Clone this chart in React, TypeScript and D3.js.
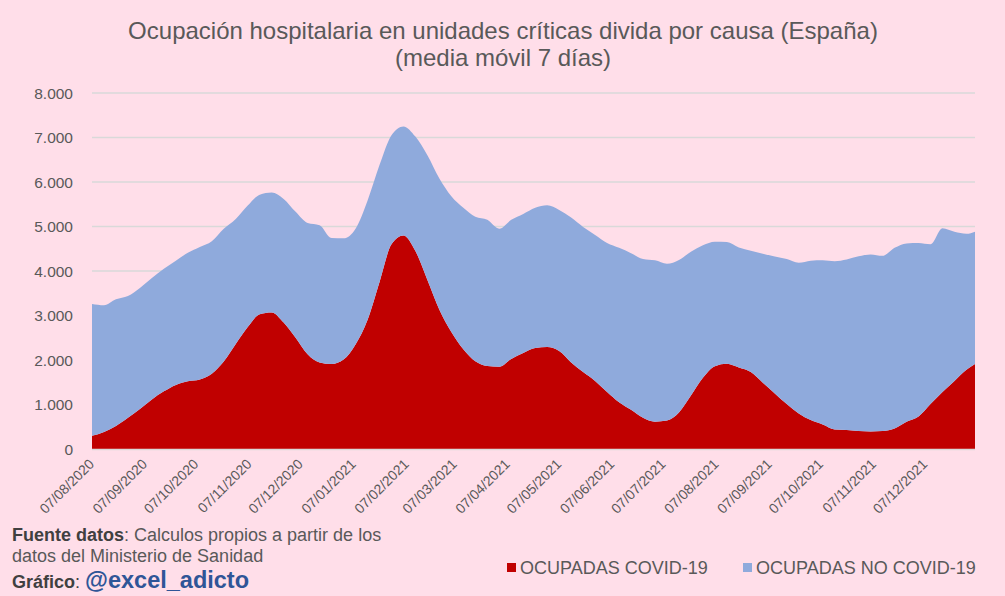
import React from "react";
import * as d3 from "d3";

const dates = [
  "2020-08-07","2020-08-14","2020-08-21","2020-08-28","2020-09-04","2020-09-11","2020-09-18","2020-09-25",
  "2020-10-02","2020-10-09","2020-10-16","2020-10-23","2020-10-30","2020-11-06","2020-11-13","2020-11-20",
  "2020-11-27","2020-12-04","2020-12-11","2020-12-18","2020-12-25","2021-01-01","2021-01-08","2021-01-15",
  "2021-01-22","2021-01-29","2021-02-05","2021-02-12","2021-02-19","2021-02-26","2021-03-05","2021-03-12",
  "2021-03-19","2021-03-26","2021-04-02","2021-04-09","2021-04-16","2021-04-23","2021-04-30","2021-05-07",
  "2021-05-14","2021-05-21","2021-05-28","2021-06-04","2021-06-11","2021-06-18","2021-06-25","2021-07-02",
  "2021-07-09","2021-07-16","2021-07-23","2021-07-30","2021-08-06","2021-08-13","2021-08-20","2021-08-27",
  "2021-09-03","2021-09-10","2021-09-17","2021-09-24","2021-10-01","2021-10-08","2021-10-15","2021-10-22",
  "2021-10-29","2021-11-05","2021-11-12","2021-11-19","2021-11-26","2021-12-03","2021-12-10","2021-12-17",
  "2021-12-24","2021-12-31","2022-01-05",
];

const covid = [
  295,383,515,700,900,1115,1295,1440,
  1520,1560,1690,1965,2360,2740,3030,3070,
  2840,2500,2130,1945,1910,2010,2350,2900,
  3750,4600,4800,4450,3800,3130,2630,2240,
  1970,1865,1850,2025,2160,2270,2290,2200,
  1945,1730,1530,1280,1050,880,700,615,
  640,820,1200,1600,1860,1915,1830,1730,
  1490,1250,1010,800,650,550,440,427,
  405,395,405,460,610,730,1010,1280,
  1530,1780,1910,
];

const noCovid = [
  2963,2847,2849,2740,2720,2725,2755,2790,
  2890,2980,2980,2985,2810,2730,2685,2695,
  2780,2830,2950,3085,2830,2725,2600,2680,
  2630,2450,2450,2570,2800,2950,3050,3180,
  3250,3285,3100,3125,3120,3150,3185,3170,
  3255,3260,3280,3350,3470,3520,3570,3625,
  3525,3430,3230,2980,2800,2735,2700,2725,
  2900,3075,3260,3385,3582,3690,3780,3833,
  3925,3975,3935,4060,4010,3900,3590,3680,
  3350,3055,2974,
];

const xTicks = [
  "2020-08-07","2020-09-07","2020-10-07","2020-11-07","2020-12-07","2021-01-07","2021-02-07","2021-03-07",
  "2021-04-07","2021-05-07","2021-06-07","2021-07-07","2021-08-07","2021-09-07","2021-10-07","2021-11-07","2021-12-07",
];
const yTicks = [0, 1000, 2000, 3000, 4000, 5000, 6000, 7000, 8000];

const seriesNames = ["OCUPADAS COVID-19", "OCUPADAS NO COVID-19"];
const seriesColors = ["#C00000", "#8FAADC"];

const W = 1005, H = 596;
const X0 = 92, X1 = 975, Y0 = 449, Y1 = 93;

export default function App() {
  const parse = d3.timeParse("%Y-%m-%d");
  const fmt = d3.timeFormat("%d/%m/%Y");
  const rows = dates.map((d, i) => ({ date: parse(d) as Date, covid: covid[i], noCovid: noCovid[i] }));
  const x = d3.scaleTime().domain([rows[0].date, rows[rows.length - 1].date]).range([X0, X1]);
  const y = d3.scaleLinear().domain([0, 8000]).range([Y0, Y1]);
  const stack = d3.stack<any>().keys(["covid", "noCovid"]);
  const layers = stack(rows);
  const area = d3.area<any>()
    .x((d) => x(d.data.date))
    .y0((d) => y(d[0]))
    .y1((d) => y(d[1]))
    .curve(d3.curveMonotoneX);
  const yFmt = (v: number) => d3.format(",")(v).replace(/,/g, ".");
  const font = "'Liberation Sans', Arial, sans-serif";

  return (
    <svg width={W} height={H} style={{ position: "absolute", left: 0, top: 0, background: "#FFDEE9" }} fontFamily={font}>
      <rect x={0} y={0} width={W} height={H} fill="#FFDEE9" />
      <text x={503} y={38.5} textAnchor="middle" fontSize={24} fill="#595959">
        Ocupación hospitalaria en unidades críticas divida por causa (España)
      </text>
      <text x={503} y={65.5} textAnchor="middle" fontSize={24} fill="#595959">
        (media móvil 7 días)
      </text>
      {yTicks.map((t) => (
        <g key={t}>
          {t > 0 && <line x1={X0} x2={X1} y1={y(t)} y2={y(t)} stroke="#D9D9D9" strokeWidth={1.5} />}
          <text x={73} y={y(t) + 5.5} textAnchor="end" fontSize={15.5} fill="#595959">{yFmt(t)}</text>
        </g>
      ))}
      {layers.map((l, i) => (
        <path key={i} d={area(l) as string} fill={seriesColors[i]} />
      ))}
      <line x1={X0} x2={X1} y1={Y0 + 0.5} y2={Y0 + 0.5} stroke="#D9D9D9" strokeWidth={1.5} />
      {xTicks.map((t) => {
        const tx = x(parse(t) as Date);
        return (
          <text key={t} transform={`translate(${tx + 3},${465}) rotate(-45)`} textAnchor="end" fontSize={14} fill="#595959">
            {fmt(parse(t) as Date)}
          </text>
        );
      })}
      <text x={12} y={541} fontSize={18} fill="#595959">
        <tspan fontWeight="bold" fill="#404040">Fuente datos</tspan>: Calculos propios a partir de los
      </text>
      <text x={12} y={562} fontSize={18} fill="#595959">datos del Ministerio de Sanidad</text>
      <text x={12} y={588} fontSize={18} fill="#404040">
        <tspan fontWeight="bold">Gráfico</tspan>: <tspan fontWeight="bold" fontSize={23.5} fill="#2F5597">@excel_adicto</tspan>
      </text>
      <rect x={507} y={563} width={9} height={9} fill={seriesColors[0]} />
      <text x={520} y={574} fontSize={18} fill="#595959">{seriesNames[0]}</text>
      <rect x={743} y={563} width={9} height={9} fill={seriesColors[1]} />
      <text x={756} y={574} fontSize={18} fill="#595959">{seriesNames[1]}</text>
    </svg>
  );
}
